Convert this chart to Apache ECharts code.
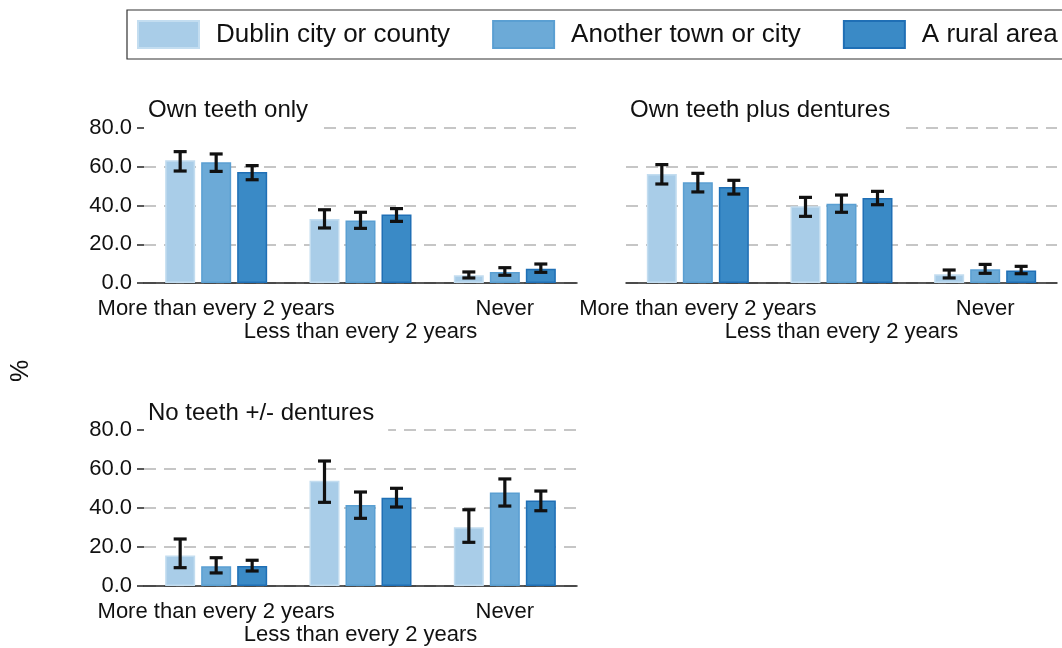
<!DOCTYPE html>
<html>
<head>
<meta charset="utf-8">
<title>Dental visits</title>
<script src="https://cdn.jsdelivr.net/npm/echarts@6/dist/echarts.min.js"></script>
<style>
  html, body { margin: 0; padding: 0; background: #fff; }
  #container { width: 1062px; height: 648px; }
</style>
</head>
<body>
<div id="container"></div>
<script type="text/javascript">
// categories / groups / panels
var categories = ['More than every 2 years', 'Less than every 2 years', 'Never'];
var groups = ['Dublin city or county', 'Another town or city', 'A rural area'];
var panelTitles = ['Own teeth only', 'Own teeth plus dentures', 'No teeth +/- dentures'];

// Own teeth only: one row per group, one value per category
var ownOnlyVal  = [[63.3, 33.0, 4.0], [62.3, 32.2, 5.7], [57.3, 35.3, 7.4]];
var ownOnlyLow  = [[57.8, 28.4, 2.6], [57.6, 28.2, 4.0], [53.3, 31.8, 5.5]];
var ownOnlyHigh = [[67.8, 37.8, 5.7], [66.6, 36.5, 7.9], [60.6, 38.4, 9.8]];

// Own teeth plus dentures
var ownDentVal  = [[56.3, 39.6, 4.5], [52.0, 40.9, 7.1], [49.5, 43.9, 6.5]];
var ownDentLow  = [[51.1, 34.4, 2.6], [47.0, 36.5, 5.0], [45.9, 40.4, 4.8]];
var ownDentHigh = [[61.1, 44.2, 6.7], [56.6, 45.4, 9.6], [53.0, 47.3, 8.6]];

// No teeth +/- dentures
var noTeethVal  = [[15.6, 54.0, 30.1], [10.1, 41.5, 47.9], [10.3, 45.3, 43.8]];
var noTeethLow  = [[9.4, 42.9, 22.4], [6.7, 34.7, 41.0], [7.7, 40.5, 38.6]];
var noTeethHigh = [[24.1, 64.1, 39.1], [14.5, 48.2, 54.9], [13.2, 50.1, 48.7]];

var colors = ['#a9cde8', '#6caad7', '#3a8ac6'];
var borders = ['#c3ddf0', '#5a9fd2', '#1f6fb5'];
var font = "'Liberation Sans', Arial, sans-serif";

var panels = [
  { val: ownOnlyVal, low: ownOnlyLow, high: ownOnlyHigh },
  { val: ownDentVal, low: ownDentLow, high: ownDentHigh },
  { val: noTeethVal, low: noTeethLow, high: noTeethHigh }
];

var grids = [
  { left: 144, top: 128, width: 433, height: 155 },
  { left: 626, top: 128, width: 431, height: 155 },
  { left: 144, top: 430, width: 433, height: 156 }
];

var dom = document.getElementById('container');
var myChart = echarts.init(dom);

var xAxes = [], yAxes = [], series = [], titles = [];

grids.forEach(function (g, p) {
  // boundary ticks pointing up
  xAxes.push({
    type: 'category', gridIndex: p, data: categories, position: 'bottom',
    axisLine: { lineStyle: { color: '#222', width: 1.5 } },
    axisTick: { inside: true, length: 9, lineStyle: { color: '#222', width: 1.5 } },
    axisLabel: { show: false }
  });
  // centre ticks pointing down, with labels on two rows
  xAxes.push({
    type: 'category', gridIndex: p, data: categories, position: 'bottom',
    axisLine: { show: false },
    axisTick: { alignWithLabel: true, length: 9, lineStyle: { color: '#222', width: 1.5 } },
    axisLabel: {
      interval: 0, margin: 14, color: '#111', fontSize: 22, fontFamily: font, lineHeight: 23,
      formatter: function (v, i) { return i % 2 ? '\n' + v : v; }
    }
  });
  yAxes.push({
    type: 'value', gridIndex: p, min: 0, max: 80, interval: 20,
    axisLine: { show: false },
    axisTick: { show: p !== 1, length: 7, lineStyle: { color: '#222', width: 1.5 } },
    axisLabel: {
      show: p !== 1, margin: 12, color: '#111', fontSize: 22, fontFamily: font,
      formatter: function (v) { return v.toFixed(1); }
    },
    splitLine: { lineStyle: { color: '#b4b4b4', width: 1.5, type: [12, 8] } }
  });

  titles.push({
    text: panelTitles[p],
    left: p === 1 ? 626 : 144,
    top: p === 2 ? 397 : 94,
    padding: [4, 14, 11, 4],
    backgroundColor: '#fff',
    textStyle: { fontSize: 24, fontWeight: 'normal', color: '#111', fontFamily: font }
  });

  var d = panels[p];
  groups.forEach(function (name, k) {
    series.push({
      name: name, type: 'bar', xAxisIndex: p * 2, yAxisIndex: p,
      barWidth: 30, barGap: '20%',
      itemStyle: { color: colors[k], borderColor: borders[k], borderWidth: 1.5 },
      data: d.val[k]
    });
  });
  groups.forEach(function (name, k) {
    var offset = (k - 1) * 36;
    series.push({
      type: 'custom', xAxisIndex: p * 2, yAxisIndex: p, z: 10,
      encode: { x: 0, y: [1, 2] },
      data: categories.map(function (c, i) { return [i, d.low[k][i], d.high[k][i]]; }),
      renderItem: function (params, api) {
        var i = api.value(0);
        var lo = api.coord([i, api.value(1)]);
        var hi = api.coord([i, api.value(2)]);
        var x = lo[0] + offset;
        var st = { stroke: '#111', lineWidth: 3.2 };
        return {
          type: 'group',
          children: [
            { type: 'line', shape: { x1: x, y1: lo[1], x2: x, y2: hi[1] }, style: st },
            { type: 'line', shape: { x1: x - 6.5, y1: lo[1], x2: x + 6.5, y2: lo[1] }, style: st },
            { type: 'line', shape: { x1: x - 6.5, y1: hi[1], x2: x + 6.5, y2: hi[1] }, style: st }
          ]
        };
      }
    });
  });
});

option = {
  backgroundColor: '#fff',
  animation: false,
  title: titles,
  legend: {
    data: groups,
    left: 127, top: 10, width: 1100,
    padding: [10, 14, 10, 10],
    borderColor: '#333', borderWidth: 1.2,
    itemWidth: 61, itemHeight: 27, itemGap: 42,
    icon: 'rect',
    textStyle: { fontSize: 26, color: '#111', fontFamily: font, padding: [4, 0, 0, 12] }
  },
  grid: grids,
  xAxis: xAxes,
  yAxis: yAxes,
  graphic: [{
    type: 'text', x: 21, y: 371, rotation: Math.PI / 2,
    style: { text: '%', font: '25px ' + font, fill: '#111', align: 'center', verticalAlign: 'middle' }
  }],
  series: series
};

myChart.setOption(option, true);
</script>
</body>
</html>
